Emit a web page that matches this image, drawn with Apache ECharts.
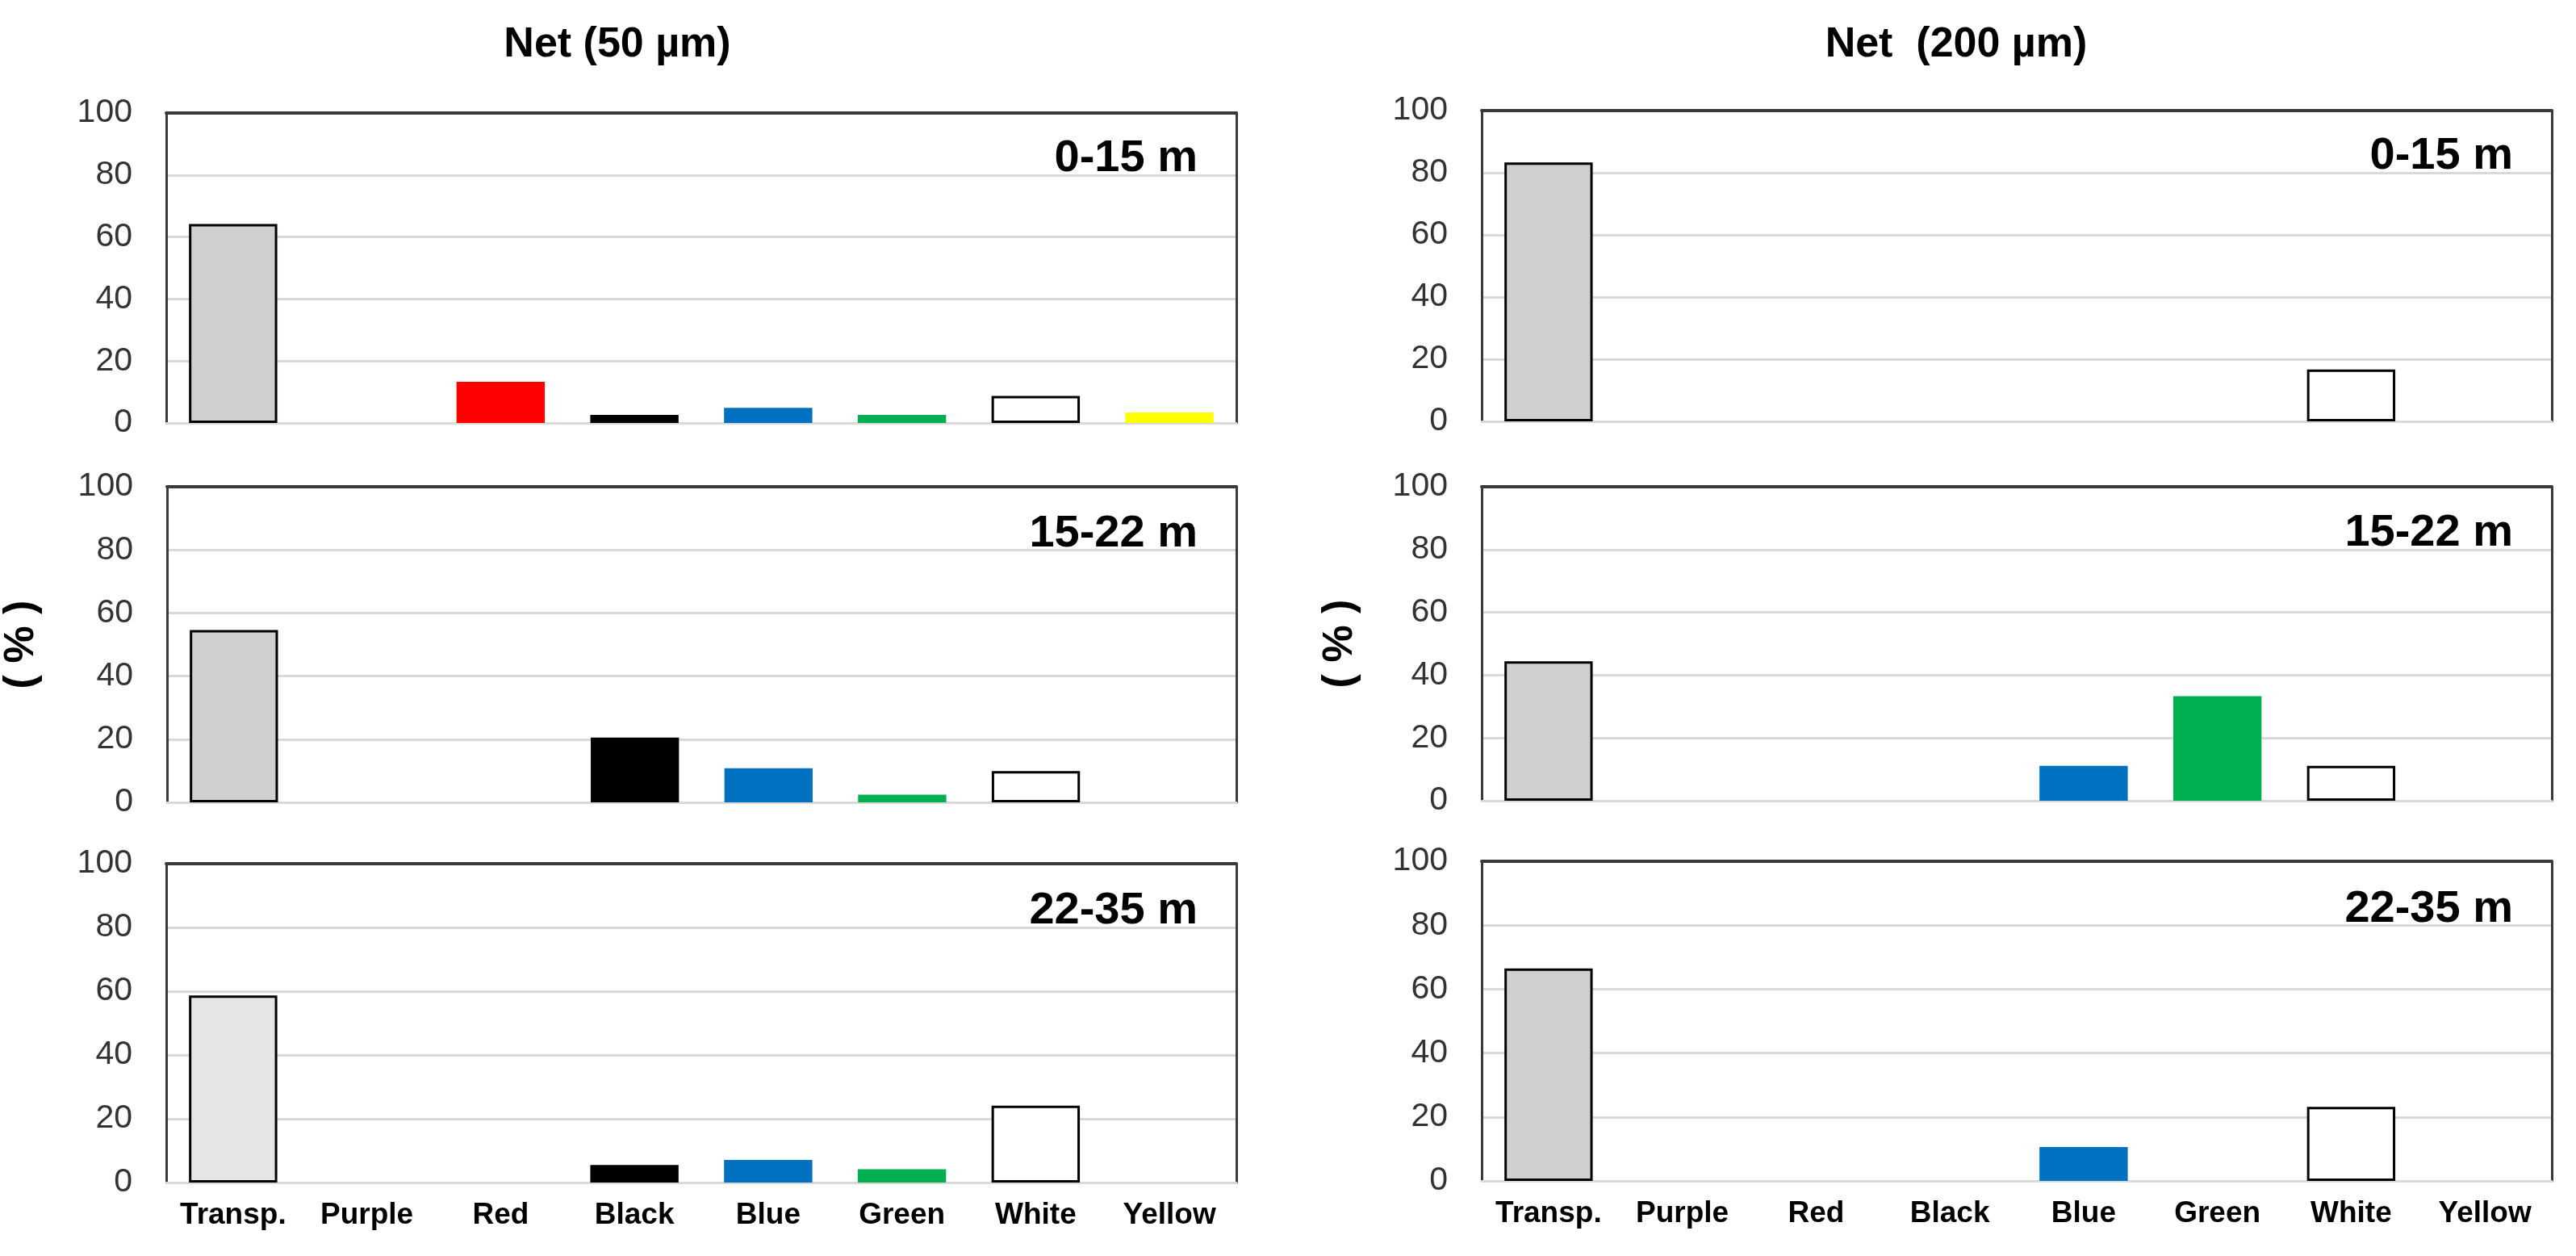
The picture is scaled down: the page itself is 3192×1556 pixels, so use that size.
<!DOCTYPE html>
<html>
<head>
<meta charset="utf-8">
<script src="https://cdn.jsdelivr.net/npm/echarts@6/dist/echarts.min.js"></script>
<style>
  html, body { margin: 0; padding: 0; background: #fff; }
  #main { width: 3192px; height: 1556px; }
</style>
</head>
<body>
<div id="main"></div>
<script>
// colour categories on the x axis
var categories = ['Transp.', 'Purple', 'Red', 'Black', 'Blue', 'Green', 'White', 'Yellow'];

// Net (50 µm), % per depth layer
var net50_0_15  = [64.2, 0, 13.3, 2.6, 4.9, 2.6, 8.7, 3.4];
var net50_15_22 = [54.6, 0, 0, 20.5, 10.8, 2.4, 9.9, 0];
var net50_22_35 = [58.7, 0, 0, 5.5, 7.1, 4.2, 24.1, 0];

// Net (200 µm), % per depth layer
var net200_0_15  = [83.3, 0, 0, 0, 0, 0, 16.7, 0];
var net200_15_22 = [44.4, 0, 0, 0, 11.1, 33.3, 11.1, 0];
var net200_22_35 = [66.5, 0, 0, 0, 10.6, 0, 23.2, 0];

var depthLabels = ['0-15 m', '15-22 m', '22-35 m'];
var netTitles = ['Net (50 µm)', 'Net  (200 µm)'];
var yMax = 100;
var yStep = 20;

var barColors = ['#d0cece', '#7030a0', '#ff0000', '#000000', '#0070c0', '#00b050', '#ffffff', '#ffff00'];
var FONT = '"Liberation Sans", Arial, sans-serif';

// panels: values, grid box, x labels shown, transp fill
var panels = [
  { data: net50_0_15,   box: { left: 206,  top: 140,  width: 1326, height: 384 }, xLabels: false, transp: '#d0cece', depth: 0 },
  { data: net50_15_22,  box: { left: 206,  top: 603,  width: 1326, height: 391 }, xLabels: false, transp: '#d0cece', depth: 1, yName: true },
  { data: net50_22_35,  box: { left: 206,  top: 1070, width: 1326, height: 395 }, xLabels: true,  transp: '#e7e6e6', depth: 2 },
  { data: net200_0_15,  box: { left: 1836, top: 137,  width: 1326, height: 385 }, xLabels: false, transp: '#d0cece', depth: 0 },
  { data: net200_15_22, box: { left: 1836, top: 603,  width: 1326, height: 389 }, xLabels: false, transp: '#d0cece', depth: 1, yName: true },
  { data: net200_22_35, box: { left: 1836, top: 1067, width: 1326, height: 396 }, xLabels: true,  transp: '#d0cece', depth: 2 }
];

var grids = [], xAxes = [], yAxes = [], series = [];
var titles = [
  { text: netTitles[0], left: 765, top: 30, textAlign: 'center', padding: 0,
    textStyle: { fontFamily: FONT, fontWeight: 'bold', fontSize: 52, lineHeight: 52, color: '#000' } },
  { text: netTitles[1], left: 2424, top: 30, textAlign: 'center', padding: 0,
    textStyle: { fontFamily: FONT, fontWeight: 'bold', fontSize: 52, lineHeight: 52, color: '#000' } }
];

panels.forEach(function (p, i) {
  grids.push({ left: p.box.left, top: p.box.top, width: p.box.width, height: p.box.height, containLabel: false });

  // bottom category axis
  xAxes.push({
    type: 'category', gridIndex: i, data: categories, position: 'bottom',
    axisTick: { show: false },
    axisLine: { show: true, onZero: false, lineStyle: { color: '#d9d9d9', width: 3 } },
    axisLabel: { show: p.xLabels, interval: 0, margin: 22, color: '#000',
      fontFamily: FONT, fontWeight: 'bold', fontSize: 37 }
  });
  // top frame line
  xAxes.push({
    type: 'category', gridIndex: i, data: categories, position: 'top',
    axisTick: { show: false }, axisLabel: { show: false },
    axisLine: { show: true, onZero: false, lineStyle: { color: '#3a3a3a', width: 4 } }
  });

  yAxes.push({
    type: 'value', gridIndex: i, min: 0, max: yMax, interval: yStep, position: 'left',
    name: p.yName ? '( % )' : '', nameLocation: 'middle', nameRotate: 90,
    nameGap: i < 3 ? 154 : 149,
    nameTextStyle: { fontFamily: FONT, fontWeight: 'bold', fontSize: 52, color: '#000' },
    axisTick: { show: false },
    axisLine: { show: true, onZero: false, lineStyle: { color: '#3a3a3a', width: 3 } },
    axisLabel: { margin: 42, color: '#333', fontFamily: FONT, fontSize: 41 },
    splitLine: { show: true, lineStyle: { color: '#d9d9d9', width: 3 } }
  });
  // right frame line
  yAxes.push({
    type: 'value', gridIndex: i, min: 0, max: yMax, interval: yStep, position: 'right',
    axisTick: { show: false }, axisLabel: { show: false }, splitLine: { show: false },
    axisLine: { show: true, onZero: false, lineStyle: { color: '#3a3a3a', width: 3 } }
  });

  series.push({
    type: 'bar', xAxisIndex: i * 2, yAxisIndex: i * 2, barWidth: '66%',
    data: p.data.map(function (v, k) {
      var outlined = k === 0 || k === 6;
      return {
        value: v,
        itemStyle: {
          color: k === 0 ? p.transp : barColors[k],
          borderColor: outlined ? '#000' : barColors[k],
          borderWidth: outlined ? 3 : 0
        }
      };
    })
  });

  // depth label in the upper right corner, baseline on the 80 gridline
  var baseline = p.box.top + p.box.height * (1 - 80 / yMax);
  titles.push({
    text: depthLabels[p.depth], padding: 0,
    right: 3192 - (p.box.left + p.box.width - 48),
    top: baseline - 48,
    textStyle: { fontFamily: FONT, fontWeight: 'bold', fontSize: 56, lineHeight: 56, color: '#000' }
  });
});

var chart = echarts.init(document.getElementById('main'));
chart.setOption({
  backgroundColor: '#fff',
  animation: false,
  title: titles,
  grid: grids,
  xAxis: xAxes,
  yAxis: yAxes,
  series: series
});
</script>
</body>
</html>
